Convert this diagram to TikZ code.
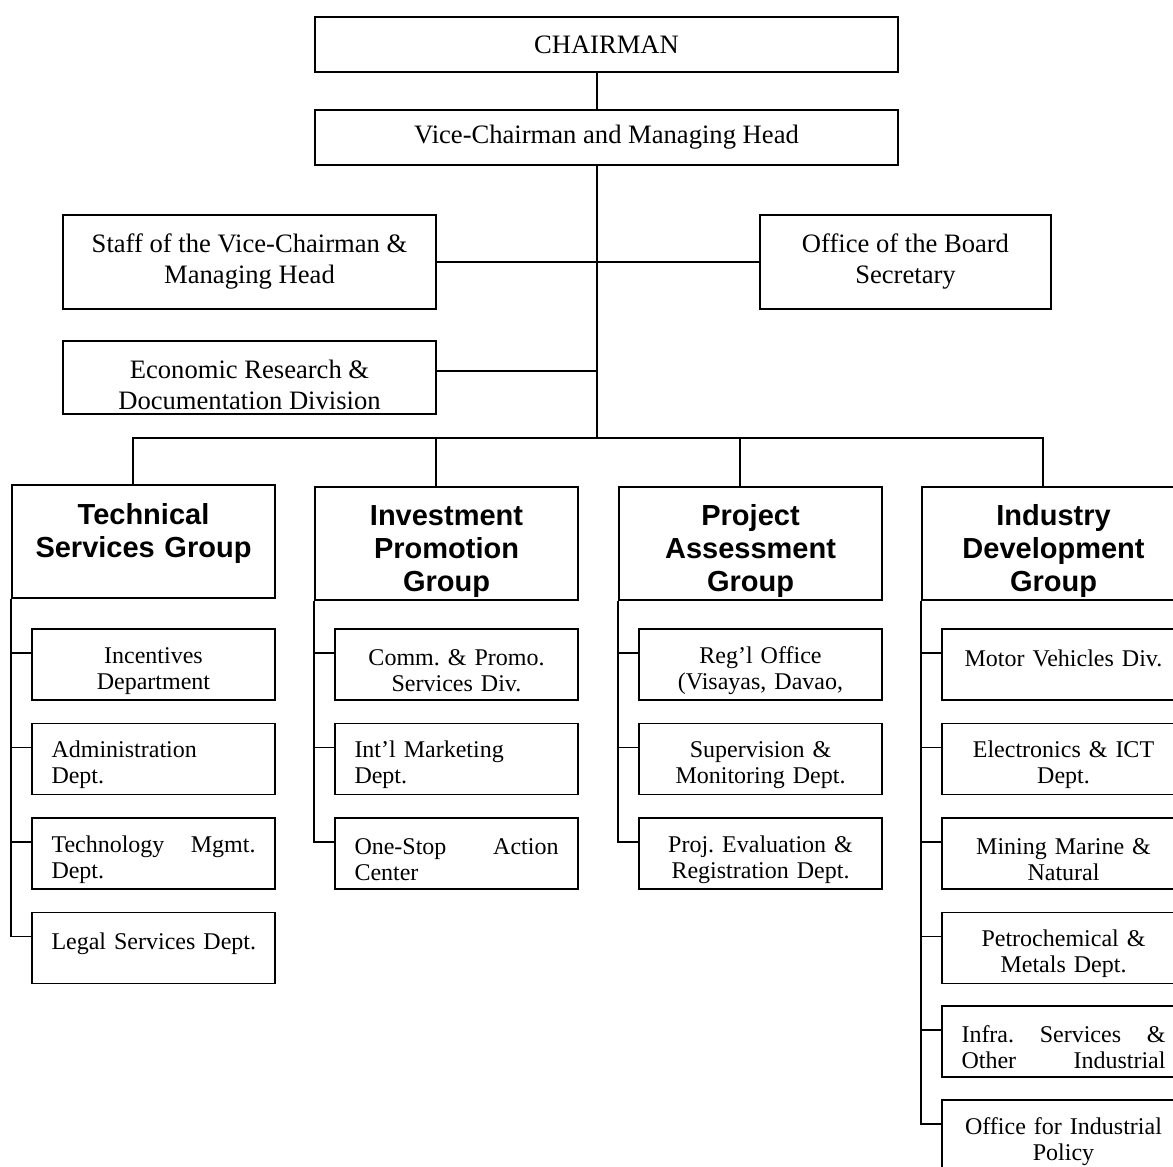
\documentclass[tikz,border=0pt]{standalone}
\usepackage{fontspec}
\setmainfont{Liberation Serif}
\setsansfont{Liberation Sans}
\usetikzlibrary{positioning}
\frenchspacing

\tikzset{
  topbox/.style={draw, line width=0.9pt, inner sep=0pt, align=center, font=\fontsize{13.3}{15.5}\selectfont},
  groupbox/.style={draw, line width=0.9pt, inner sep=0pt, minimum width=131.5pt, minimum height=56.5pt, text width=125pt, align=center, font=\sffamily\bfseries\fontsize{14.5}{16.5}\selectfont, execute at begin node={\rule{0pt}{18.5pt}}},
  subbox/.style={draw, line width=0.9pt, inner sep=0pt, minimum width=121.5pt, minimum height=35.5pt, text width=102pt, align=center, font=\fontsize{12}{13}\selectfont, execute at begin node={\rule{0pt}{14.5pt}}},
  link/.style={line width=0.8pt}
}

\begin{document}
\begin{tikzpicture}[x=0.5pt, y=-0.5pt]
            \useasboundingbox (0,0) rectangle (1173,1167);
            \clip (0,0) rectangle (1173,1167);

            % Top management
            \node[topbox, minimum width=291.5pt, minimum height=27.5pt] (chair) at (606.5,44.5) {CHAIRMAN};
            \node[topbox, minimum width=291.5pt, minimum height=27.5pt] (vice) at (606.5,137.5) {Vice-Chairman and Managing Head};
            \node[topbox, minimum width=186.5pt, minimum height=47pt] (staff) at (249.5,262) {Staff of the Vice-Chairman \&\\Managing Head};
            \node[topbox, minimum width=145.5pt, minimum height=47pt] (board) at (905.5,262) {Office of the Board\\Secretary};
            \node[topbox, minimum width=186.5pt, minimum height=36.5pt] (econ) at (249.5,377.5) {\rule{0pt}{16.5pt}Economic Research \&\\Documentation Division};
            \coordinate (hub) at (597,438);

            \draw[link] (chair.south -| hub) -- (vice.north -| hub);
            \draw[link] (vice.south -| hub) -- (hub);
            \draw[link] (staff.east) -- (board.west);
            \draw[link] ([yshift=3.25pt]econ.east) -- ([yshift=3.25pt]econ.east -| hub);

            % Groups
            \node[groupbox] (tsg) at (143.5,541.5) {Technical\\Services Group\\[2.5pt]~};
            \node[groupbox] (ipg) at (446.5,543.5) {Investment\\Promotion\\Group};
            \node[groupbox] (pag) at (750.5,543.5) {Project\\Assessment\\Group};
            \node[groupbox] (idg) at (1053.5,543.5) {Industry\\Development\\Group};

            \draw[link] ([xshift=-5.25pt]tsg.north) |- (hub) -| ([xshift=-5.25pt]idg.north);
            \draw[link] ([xshift=-5.25pt]ipg.north) -- ([xshift=-5.25pt]ipg.north |- hub);
            \draw[link] ([xshift=-5.25pt]pag.north) -- ([xshift=-5.25pt]pag.north |- hub);

            % Technical Services Group
            \node[subbox] (ts1) at (153.5,664.5) {Incentives\\Department};
            \node[subbox, align=left] (ts2) at (153.5,759) {Administration\\Dept.};
            \node[subbox, align=left] (ts3) at (153.5,853.5) {Technology\hfill Mgmt.\\Dept.};
            \node[subbox] (ts4) at (153.5,948) {\mbox{Legal Services Dept.}\\~};
            \draw[link] (tsg.south west) |- ([yshift=5.75pt]ts4.west);
            \draw[link] ([yshift=5.75pt]ts1.west) -- ([yshift=5.75pt]ts1.west -| tsg.west);
            \draw[link] ([yshift=5.75pt]ts2.west) -- ([yshift=5.75pt]ts2.west -| tsg.west);
            \draw[link] ([yshift=5.75pt]ts3.west) -- ([yshift=5.75pt]ts3.west -| tsg.west);

            % Investment Promotion Group
            \node[subbox] (ip1) at (456.5,664.5) {Comm. \& Promo.\\Services Div.};
            \node[subbox, align=left] (ip2) at (456.5,759) {Int'l Marketing\\Dept.};
            \node[subbox, align=left] (ip3) at (456.5,853.5) {One-Stop\hfill Action\\Center};
            \draw[link] (ipg.south west) |- ([yshift=5.75pt]ip3.west);
            \draw[link] ([yshift=5.75pt]ip1.west) -- ([yshift=5.75pt]ip1.west -| ipg.west);
            \draw[link] ([yshift=5.75pt]ip2.west) -- ([yshift=5.75pt]ip2.west -| ipg.west);

            % Project Assessment Group
            \node[subbox] (pa1) at (760.5,664.5) {Reg'l Office\\(Visayas, Davao,};
            \node[subbox] (pa2) at (760.5,759) {Supervision \&\\Monitoring Dept.};
            \node[subbox] (pa3) at (760.5,853.5) {Proj. Evaluation \&\\Registration Dept.};
            \draw[link] (pag.south west) |- ([yshift=5.75pt]pa3.west);
            \draw[link] ([yshift=5.75pt]pa1.west) -- ([yshift=5.75pt]pa1.west -| pag.west);
            \draw[link] ([yshift=5.75pt]pa2.west) -- ([yshift=5.75pt]pa2.west -| pag.west);

            % Industry Development Group
            \node[subbox] (id1) at (1063.5,664.5) {Motor Vehicles Div.\\~};
            \node[subbox] (id2) at (1063.5,759) {Electronics \& ICT\\Dept.};
            \node[subbox] (id3) at (1063.5,853.5) {Mining Marine \&\\Natural};
            \node[subbox] (id4) at (1063.5,948) {Petrochemical \&\\Metals Dept.};
            \node[subbox, align=left] (id5) at (1063.5,1041.5) {Infra.\hfill Services\hfill \&\\Other\hfill Industrial};
            \node[subbox] (id6) at (1063.5,1135.5) {Office for Industrial\\Policy};
            \draw[link] (idg.south west) |- ([yshift=5.75pt]id6.west);
            \draw[link] ([yshift=5.75pt]id1.west) -- ([yshift=5.75pt]id1.west -| idg.west);
            \draw[link] ([yshift=5.75pt]id2.west) -- ([yshift=5.75pt]id2.west -| idg.west);
            \draw[link] ([yshift=5.75pt]id3.west) -- ([yshift=5.75pt]id3.west -| idg.west);
            \draw[link] ([yshift=5.75pt]id4.west) -- ([yshift=5.75pt]id4.west -| idg.west);
            \draw[link] ([yshift=5.75pt]id5.west) -- ([yshift=5.75pt]id5.west -| idg.west);
\end{tikzpicture}
\end{document}
